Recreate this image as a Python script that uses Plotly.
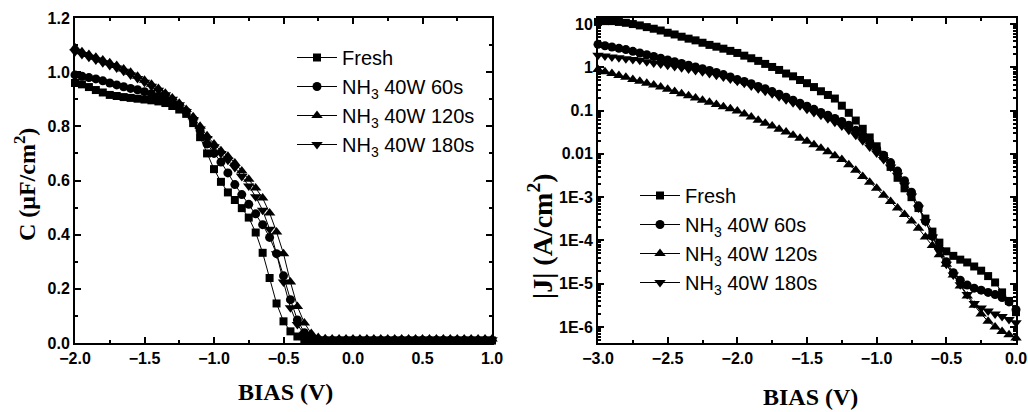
import plotly.graph_objects as go

# ---------------- data ----------------
bias_cv = [-2.00, -1.95, -1.90, -1.85, -1.80, -1.75, -1.70, -1.65, -1.60, -1.55,
           -1.50, -1.45, -1.40, -1.35, -1.30, -1.25, -1.20, -1.15, -1.10, -1.05,
           -1.00, -0.95, -0.90, -0.85, -0.80, -0.75, -0.70, -0.65, -0.60, -0.55,
           -0.50, -0.45, -0.40, -0.35, -0.30, -0.25, -0.20, -0.15, -0.10, -0.05,
           0.00, 0.05, 0.10, 0.15, 0.20, 0.25, 0.30, 0.35, 0.40, 0.45,
           0.50, 0.55, 0.60, 0.65, 0.70, 0.75, 0.80, 0.85, 0.90, 0.95, 1.00]

c_fresh = [0.960, 0.955, 0.945, 0.934, 0.925, 0.916, 0.912, 0.908, 0.905, 0.902,
           0.899, 0.896, 0.892, 0.886, 0.875, 0.862, 0.846, 0.812, 0.760, 0.700,
           0.642, 0.595, 0.556, 0.528, 0.498, 0.463, 0.408, 0.333, 0.240, 0.146,
           0.080, 0.043, 0.024, 0.014, 0.010, 0.009, 0.009, 0.009, 0.009, 0.009,
           0.009, 0.009, 0.009, 0.009, 0.009, 0.009, 0.009, 0.009, 0.009, 0.009,
           0.009, 0.009, 0.009, 0.009, 0.009, 0.009, 0.009, 0.009, 0.009, 0.009, 0.009]
c_60s = [0.990, 0.985, 0.980, 0.975, 0.968, 0.960, 0.953, 0.946, 0.940, 0.935,
         0.928, 0.920, 0.910, 0.900, 0.890, 0.875, 0.855, 0.825, 0.785, 0.735,
         0.700, 0.668, 0.628, 0.585, 0.548, 0.512, 0.477, 0.437, 0.390, 0.330,
         0.248, 0.160, 0.085, 0.038, 0.018, 0.012, 0.010, 0.010, 0.010, 0.010,
         0.010, 0.010, 0.010, 0.010, 0.010, 0.010, 0.010, 0.010, 0.010, 0.010,
         0.010, 0.010, 0.010, 0.010, 0.010, 0.010, 0.010, 0.010, 0.010, 0.010, 0.010]
c_120s = [1.090, 1.075, 1.065, 1.055, 1.045, 1.035, 1.025, 1.012, 1.000, 0.985,
          0.970, 0.955, 0.940, 0.922, 0.905, 0.885, 0.862, 0.835, 0.800, 0.765,
          0.735, 0.710, 0.690, 0.665, 0.635, 0.605, 0.572, 0.535, 0.480, 0.410,
          0.330, 0.225, 0.135, 0.074, 0.035, 0.020, 0.016, 0.015, 0.015, 0.015,
          0.015, 0.015, 0.015, 0.015, 0.015, 0.015, 0.015, 0.015, 0.015, 0.015,
          0.015, 0.015, 0.015, 0.015, 0.015, 0.015, 0.015, 0.015, 0.015, 0.015, 0.015]
c_180s = [1.075, 1.065, 1.055, 1.045, 1.035, 1.025, 1.015, 1.003, 0.990, 0.977,
          0.963, 0.948, 0.933, 0.917, 0.900, 0.880, 0.855, 0.825, 0.790, 0.755,
          0.725, 0.700, 0.675, 0.648, 0.615, 0.580, 0.540, 0.490, 0.420, 0.330,
          0.225, 0.130, 0.068, 0.032, 0.018, 0.014, 0.013, 0.012, 0.012, 0.012,
          0.012, 0.012, 0.012, 0.012, 0.012, 0.012, 0.012, 0.012, 0.012, 0.012,
          0.012, 0.012, 0.012, 0.012, 0.012, 0.012, 0.012, 0.012, 0.012, 0.012, 0.012]

bias_iv = [-3.00, -2.95, -2.90, -2.85, -2.80, -2.75, -2.70, -2.65, -2.60, -2.55,
           -2.50, -2.45, -2.40, -2.35, -2.30, -2.25, -2.20, -2.15, -2.10, -2.05,
           -2.00, -1.95, -1.90, -1.85, -1.80, -1.75, -1.70, -1.65, -1.60, -1.55,
           -1.50, -1.45, -1.40, -1.35, -1.30, -1.25, -1.20, -1.15, -1.10, -1.05,
           -1.00, -0.95, -0.90, -0.85, -0.80, -0.75, -0.70, -0.65, -0.60, -0.55,
           -0.50, -0.45, -0.40, -0.35, -0.30, -0.25, -0.20, -0.15, -0.10, -0.05, 0.00]

j_fresh = [11.2, 11.7, 11.7, 11.2, 10.7, 10.0, 9.3, 8.5, 7.8, 7.1,
           6.3, 5.75, 5.1, 4.6, 4.2, 3.7, 3.3, 3.0, 2.7, 2.4,
           2.15, 1.86, 1.62, 1.41, 1.2, 1.02, 0.87, 0.72, 0.62, 0.51,
           0.43, 0.35, 0.28, 0.23, 0.19, 0.13, 0.089, 0.059, 0.038, 0.024,
           0.015, 0.0089, 0.005, 0.0028, 0.0016, 0.001, 5.6e-4, 3.2e-4, 1.6e-4, 8.9e-5,
           5.6e-5, 4.4e-5, 3.6e-5, 3.1e-5, 2.5e-5, 2.0e-5, 1.5e-5, 1.07e-5, 6.3e-6, 4.0e-6,
           2.2e-6]
j_60s = [3.4, 3.16, 2.95, 2.75, 2.57, 2.34, 2.14, 1.95, 1.78, 1.62,
         1.48, 1.35, 1.23, 1.12, 1.02, 0.93, 0.85, 0.76, 0.68, 0.60,
         0.52, 0.47, 0.42, 0.36, 0.32, 0.275, 0.24, 0.204, 0.174, 0.148,
         0.126, 0.107, 0.091, 0.078, 0.066, 0.056, 0.046, 0.035, 0.026, 0.019,
         0.013, 0.0093, 0.0063, 0.004, 0.0024, 0.0013, 6.3e-4, 2.8e-4, 1.26e-4, 6.3e-5,
         3.2e-5, 1.8e-5, 1.2e-5, 9.3e-6, 7.9e-6, 7.1e-6, 6.3e-6, 5.6e-6, 4.8e-6, 3.8e-6,
         2.5e-6]
j_120s = [0.89, 0.79, 0.72, 0.65, 0.59, 0.52, 0.48, 0.43, 0.39, 0.35,
          0.31, 0.275, 0.245, 0.22, 0.195, 0.174, 0.155, 0.138, 0.123, 0.11,
          0.098, 0.083, 0.071, 0.06, 0.051, 0.044, 0.037, 0.032, 0.027, 0.023,
          0.0195, 0.0162, 0.0135, 0.0112, 0.0091, 0.0074, 0.0056, 0.0042, 0.003, 0.0022,
          0.0016, 0.0011, 7.9e-4, 5.6e-4, 4.0e-4, 2.8e-4, 1.9e-4, 1.2e-4, 7.6e-5, 4.7e-5,
          2.8e-5, 1.6e-5, 8.9e-6, 5.2e-6, 3.2e-6, 2.0e-6, 1.35e-6, 1.0e-6, 7.9e-7, 6.6e-7,
          5.6e-7]
j_180s = [1.9, 1.82, 1.74, 1.66, 1.58, 1.51, 1.45, 1.35, 1.26, 1.2,
          1.12, 1.05, 0.98, 0.91, 0.85, 0.79, 0.72, 0.66, 0.60, 0.54,
          0.48, 0.43, 0.37, 0.32, 0.28, 0.245, 0.21, 0.178, 0.151, 0.129,
          0.107, 0.091, 0.078, 0.065, 0.054, 0.044, 0.035, 0.027, 0.02, 0.0145,
          0.0105, 0.0074, 0.005, 0.0032, 0.0019, 0.00107, 5.6e-4, 2.7e-4, 1.2e-4, 5.6e-5,
          2.8e-5, 1.6e-5, 9.5e-6, 5.6e-6, 3.5e-6, 2.75e-6, 2.35e-6, 2.0e-6, 1.74e-6, 1.48e-6,
          1.26e-6]

series_names = ["Fresh", "NH<sub>3</sub> 40W 60s", "NH<sub>3</sub> 40W 120s", "NH<sub>3</sub> 40W 180s"]
cv_values = [c_fresh, c_60s, c_120s, c_180s]
iv_values = [j_fresh, j_60s, j_120s, j_180s]

cv_yticks = [0.0, 0.2, 0.4, 0.6, 0.8, 1.0, 1.2]
cv_xticks = [-2.0, -1.5, -1.0, -0.5, 0.0, 0.5, 1.0]
iv_xticks = [-3.0, -2.5, -2.0, -1.5, -1.0, -0.5, 0.0]
iv_yticks = [10, 1, 0.1, 0.01, 1e-3, 1e-4, 1e-5, 1e-6]
iv_yticktext = ["10", "1", "0.1", "0.01", "1E-3", "1E-4", "1E-5", "1E-6"]

# ---------------- style ----------------
symbols = ["square", "circle", "triangle-up", "triangle-down"]
sizes = [8, 9, 10, 10]
W, H = 1028, 412
TICKFONT = dict(family="Liberation Sans, Arial, sans-serif", size=16, color="black", weight="bold")
LEGFONT = dict(family="Liberation Sans, Arial, sans-serif", size=20, color="black")
TITLEFONT = dict(family="Liberation Serif, Times New Roman, serif", size=24, color="black", weight="bold")
JTITLEFONT = dict(family="Liberation Serif, Times New Roman, serif", size=28, color="black", weight="bold")

fig = go.Figure()
for name, vals, sym, sz in zip(series_names, cv_values, symbols, sizes):
    fig.add_trace(go.Scatter(x=bias_cv, y=vals, name=name, mode="lines+markers",
                             line=dict(color="black", width=1),
                             marker=dict(symbol=sym, size=sz, color="black"),
                             cliponaxis=False, xaxis="x", yaxis="y", legend="legend"))
for name, vals, sym, sz in zip(series_names, iv_values, symbols, sizes):
    fig.add_trace(go.Scatter(x=bias_iv, y=vals, name=name, mode="lines+markers",
                             line=dict(color="black", width=1),
                             marker=dict(symbol=sym, size=sz, color="black"),
                             cliponaxis=False, xaxis="x2", yaxis="y2", legend="legend2"))

def px_x(p):
    return p / W

def px_y(p):
    return 1 - p / H

ydom = [px_y(343), px_y(18)]
common = dict(showline=True, linecolor="black", linewidth=2, mirror="ticks",
              ticks="inside", ticklen=6, tickwidth=1.5, tickcolor="black",
              showgrid=False, zeroline=False, tickfont=TICKFONT, automargin=False)

fig.update_layout(
    width=W, height=H, margin=dict(l=0, r=0, t=0, b=0, pad=0, autoexpand=False),
    paper_bgcolor="white", plot_bgcolor="white",
    xaxis=dict(domain=[px_x(75), px_x(492)], range=[-2.0, 1.0], tickvals=cv_xticks,
               tickformat=".1f", anchor="y",
               minor=dict(dtick=0.25, ticks="inside", ticklen=3, tickcolor="black"), **common),
    yaxis=dict(domain=ydom, range=[0, 1.2], tickvals=cv_yticks, tickformat=".1f", anchor="x",
               minor=dict(dtick=0.1, ticks="inside", ticklen=3, tickcolor="black"), **common),
    xaxis2=dict(domain=[px_x(598), px_x(1016)], range=[-3.0, 0.0], tickvals=iv_xticks,
                tickformat=".1f", anchor="y2",
                minor=dict(dtick=0.25, ticks="inside", ticklen=3, tickcolor="black"), **common),
    yaxis2=dict(domain=ydom, type="log", range=[-6.37, 1.14], tickvals=iv_yticks,
                ticktext=iv_yticktext, anchor="x2",
                minor=dict(tickvals=[k * 10.0 ** e for e in range(-7, 2) for k in range(2, 10)],
                           ticks="inside", ticklen=3, tickcolor="black"), **common),
    legend=dict(x=px_x(292), y=px_y(38), xanchor="left", yanchor="top",
                font=LEGFONT, bgcolor="rgba(0,0,0,0)", tracegroupgap=0, itemwidth=40),
    legend2=dict(x=px_x(635), y=px_y(176), xanchor="left", yanchor="top",
                 font=LEGFONT, bgcolor="rgba(0,0,0,0)", tracegroupgap=0, itemwidth=40),
    annotations=[
        dict(text="BIAS (V)", x=px_x(285), y=px_y(392), xref="paper", yref="paper",
             showarrow=False, font=TITLEFONT, xanchor="center", yanchor="middle"),
        dict(text="BIAS (V)", x=px_x(810), y=px_y(397), xref="paper", yref="paper",
             showarrow=False, font=TITLEFONT, xanchor="center", yanchor="middle"),
        dict(text="C (\u03bcF/cm<sup>2</sup>)", x=px_x(25), y=px_y(185), xref="paper", yref="paper",
             showarrow=False, font=TITLEFONT, textangle=-90, xanchor="center", yanchor="middle"),
        dict(text="|J| (A/cm<sup>2</sup>)", x=px_x(540), y=px_y(236), xref="paper", yref="paper",
             showarrow=False, font=JTITLEFONT, textangle=-90, xanchor="center", yanchor="middle"),
    ],
)

fig.write_html("out.html", config={"displayModeBar": False},
               post_script="document.body.style.margin='0';document.body.style.overflow='hidden';")
